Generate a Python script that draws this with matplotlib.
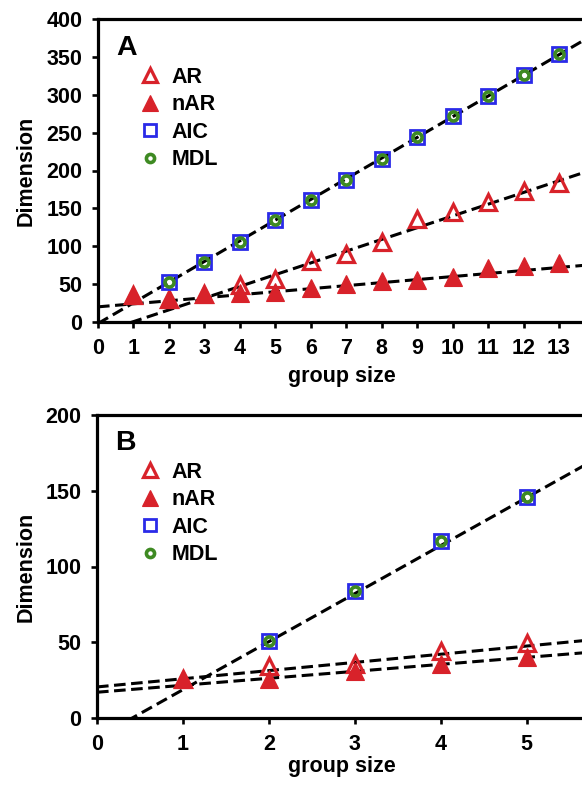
import numpy as np
import matplotlib
matplotlib.use("Agg")
import matplotlib.pyplot as plt

plt.rcParams['font.family'] = ['Liberation Sans', 'DejaVu Sans']
plt.rcParams['font.weight'] = 'bold'

# ---------------- data ----------------
# Panel A
group_a = [1, 2, 3, 4, 5, 6, 7, 8, 9, 10, 11, 12, 13]
ar_a = [35, 31, 37, 49, 57, 81, 90, 105, 136, 145, 158, 173, 184]
nar_a = [35, 31, 37, 38, 39, 45, 50, 54, 56, 59, 71, 74, 78]
group_a_ic = [2, 3, 4, 5, 6, 7, 8, 9, 10, 11, 12, 13]
aic_a = [53, 79, 105, 135, 161, 187, 215, 244, 272, 299, 326, 354]
mdl_a = [53, 79, 105, 135, 161, 187, 215, 244, 272, 299, 326, 354]
fit_slope_a = [27.3, 15.5, 4.0]        # AIC/MDL, AR, nAR
fit_icept_a = [-2.0, -15.0, 20.0]

# Panel B
group_b = [1, 2, 3, 4, 5]
ar_b = [26, 34, 35.5, 44.5, 49.5]
nar_b = [26, 26, 31, 35.5, 40]
group_b_ic = [2, 3, 4, 5]
aic_b = [51, 84, 117, 146]
mdl_b = [51, 84, 117, 146]
fit_slope_b = [31.7, 5.4, 4.6]
fit_icept_b = [-13.0, 20.5, 17.0]

xmax_a, ymax_a = 13.76, 400
xmax_b, ymax_b = 5.69, 200
yticks_a = [0, 50, 100, 150, 200, 250, 300, 350, 400]
yticks_b = [0, 50, 100, 150, 200]

RED = '#d8222a'
BLUE = '#2a2ae8'
GREEN = '#3e8a22'

W, H = 582, 785
fig = plt.figure(figsize=(W / 100, H / 100), dpi=100)

def px_ax(left, top, right, bottom):
    return [left / W, 1 - bottom / H, (right - left) / W, (bottom - top) / H]

ax_a = fig.add_axes(px_ax(98, 19, 586, 322))
ax_b = fig.add_axes(px_ax(97, 415, 586, 718))


def draw_panel(ax, gx, ar, nar, gic, aic, mdl, slopes, icepts, xmax, ymax,
               yticks, letter, letter_xy, legend_xy, ylab_y, xlab_y):
    xs = np.array([0, xmax])
    for s, b in zip(slopes, icepts):
        ax.plot(xs, s * xs + b, color='black', lw=2.2,
                linestyle=(0, (3.8, 1.8)), zorder=2)
    ax.plot(gx, ar, linestyle='none', marker='^', ms=11.5, mfc='none',
            mec=RED, mew=2.3, zorder=3, label='AR')
    ax.plot(gx, nar, linestyle='none', marker='^', ms=13, mfc=RED,
            mec=RED, mew=0.8, zorder=4, label='nAR')
    ax.plot(gic, aic, linestyle='none', marker='s', ms=9.5, mfc='none',
            mec=BLUE, mew=2.0, zorder=5, label='AIC')
    ax.plot(gic, mdl, linestyle='none', marker='o', ms=6.5, mfc='none',
            mec=GREEN, mew=2.6, zorder=6, label='MDL')

    ax.set_xlim(0, xmax)
    ax.set_ylim(0, ymax)
    ax.set_xticks(range(0, int(np.floor(xmax)) + 1))
    ax.set_yticks(yticks)
    for sp in ['left', 'bottom', 'top', 'right']:
        ax.spines[sp].set_linewidth(2.3)
    ax.tick_params(direction='out', length=4.3, width=1.9, pad=7,
                   labelsize=15.5, top=False, right=False)
    for lab in ax.get_xticklabels() + ax.get_yticklabels():
        lab.set_fontweight('bold')

    ax.set_ylabel('Dimension', fontsize=15.5, fontweight='bold')
    ax.yaxis.label.set_va('baseline')
    ax.yaxis.set_label_coords(32 / W, 1 - ylab_y / H, transform=fig.transFigure)
    ax.set_xlabel('group size', fontsize=15.5, fontweight='bold')
    ax.xaxis.label.set_va('baseline')
    ax.xaxis.set_label_coords(342 / W, 1 - xlab_y / H, transform=fig.transFigure)

    fig.text(letter_xy[0] / W, 1 - letter_xy[1] / H, letter, fontsize=20.5,
             fontweight='bold', ha='left', va='baseline')

    leg = ax.legend(loc='upper left',
                    bbox_to_anchor=(legend_xy[0] / W, 1 - legend_xy[1] / H),
                    bbox_transform=fig.transFigure, frameon=False,
                    fontsize=15.5, handlelength=1.0, handletextpad=0.5,
                    labelspacing=0.3, borderpad=0, borderaxespad=0,
                    markerscale=0.9)
    for t in leg.get_texts():
        t.set_fontweight('bold')


draw_panel(ax_a, group_a, ar_a, nar_a, group_a_ic, aic_a, mdl_a,
           fit_slope_a, fit_icept_a, xmax_a, ymax_a, yticks_a,
           'A', (116, 55), (139.6, 67), 170.5, 381.7)
draw_panel(ax_b, group_b, ar_b, nar_b, group_b_ic, aic_b, mdl_b,
           fit_slope_b, fit_icept_b, xmax_b, ymax_b, yticks_b,
           'B', (115, 450), (139.6, 462), 566.5, 771.7)

fig.savefig('out.png', dpi=100)
